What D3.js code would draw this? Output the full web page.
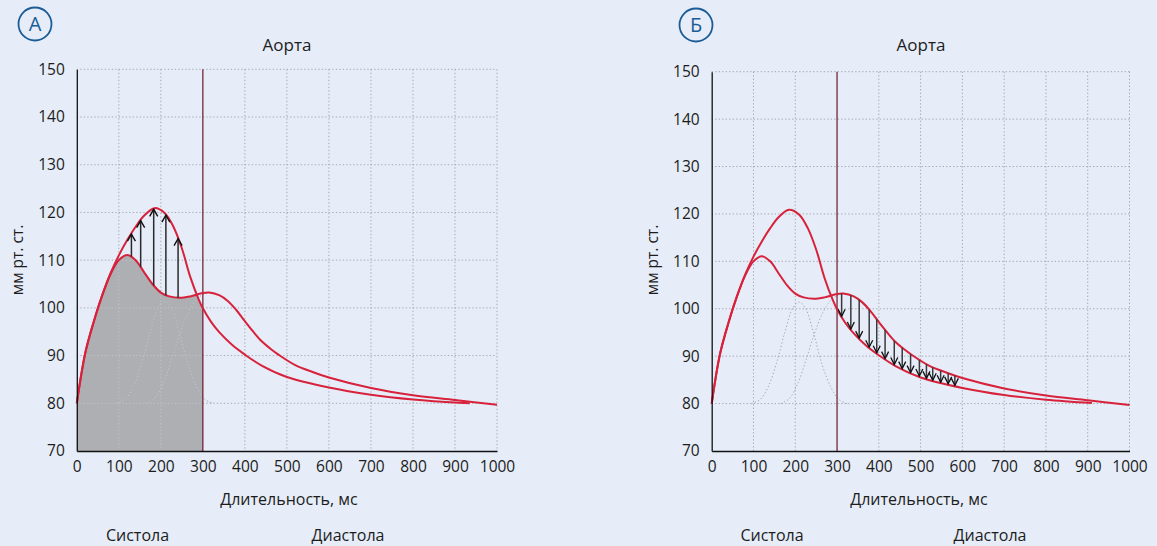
<!DOCTYPE html>
<html><head><meta charset="utf-8">
<script src="https://cdn.jsdelivr.net/npm/d3@7"></script>
<style>
html,body{margin:0;padding:0;background:#E6EDF8;}
svg{display:block;}
text{font-family:"Open Sans",sans-serif;fill:#1c1c1c;}
</style></head><body>
<svg id="chart" width="1157" height="546"></svg>
<script>
// ---------- data ----------
const timeTicks = [0,100,200,300,400,500,600,700,800,900,1000];
const pressureTicks = [70,80,90,100,110,120,130,140,150];
const panelLetters = ["А","Б"];
const panelTitles = ["Аорта","Аорта"];
const xTitle = "Длительность, мс";
const yTitle = "мм рт. ст.";
const phaseLabels = ["Систола","Диастола"];
const systoleEnd = 300;
// curve with lower systolic peak and dicrotic hump [ms, mmHg]
const curveA = [[0,80],[20,90.5],[40,97],[60,102.5],[80,107],[100,110],[120,111.1],[140,110],[160,107.5],[180,105],[200,103.2],[220,102.4],[245,102.1],[270,102.4],[300,103.1],[315,103.2],[340,102.6],[360,101.4],[380,99.5],[400,97.2],[420,95.0],[440,93.0],[460,91.5],[480,90.2],[520,88.0],[560,86.6],[600,85.4],[700,83.2],[800,81.7],[900,80.7],[1000,79.7]];
// curve with higher systolic peak
const curveB = [[0,80],[20,90.5],[40,97],[60,102.5],[80,107.2],[100,111],[120,114.2],[140,117],[160,119.3],[185,120.9],[210,119.8],[230,117],[250,112.5],[270,106.5],[290,101.8],[300,99.9],[320,97],[340,94.8],[370,92.2],[400,90.2],[440,87.9],[500,85.5],[600,83.3],[700,81.8],[800,80.8],[910,80.1],[935,80.0]];
const curveBEndRight = 910;
// dotted component waves
const wave1 = [[95,80],[115,80.8],[135,83.5],[155,88.5],[175,95],[195,100.3],[210,101.4],[225,100],[245,94.5],[265,88],[285,83.5],[305,80.8],[325,80]];
const wave2 = [[165,80],[185,81],[205,84],[225,89],[245,94.5],[265,99],[285,101.8],[305,103],[320,103.2]];
// arrows
const arrowsUp = [130,152,183,212,241];
const arrowsDown = [311,333,353,377,395,415,437,456,476,497,514,529,548,566,582];

// ---------- layout ----------
const panels = [
  {x0:76.8, x1:497, yTop:69.3, yBot:451, cx:35, cy:24, titleX:287, xTitleX:289, phaseX:[137.5,348], yLabX:17.5, mode:"fill"},
  {x0:711.7, x1:1129.5, yTop:71.7, yBot:451, cx:696, cy:25, titleX:921, xTitleX:919, phaseX:[772,990], yLabX:652.5, mode:"down"}
];
const RED = "#D8213B", GRID = "#A3A7AE", GRID_LIGHT = "#C6C7CB", FILL = "#AEAFB3";
const svg = d3.select("#chart");
const defs = svg.append("defs");

function sampler(node){
  const L = node.getTotalLength();
  return function(px){
    let lo=0, hi=L;
    for(let i=0;i<40;i++){
      const mid=(lo+hi)/2;
      if(node.getPointAtLength(mid).x < px) lo=mid; else hi=mid;
    }
    return node.getPointAtLength((lo+hi)/2).y;
  };
}

panels.forEach((P, i) => {
  const x = d3.scaleLinear().domain([0,1000]).range([P.x0, P.x1]);
  const y = d3.scaleLinear().domain([70,150]).range([P.yBot, P.yTop]);
  const line = d3.line().x(d=>x(d[0])).y(d=>y(d[1])).curve(d3.curveCatmullRom.alpha(0.5));
  const g = svg.append("g");
  const gFill = g.append("g"), gGrid = g.append("g"), gLight = g.append("g"),
        gLine300 = g.append("g"), gCurves = g.append("g"), gArrows = g.append("g"), gAxes = g.append("g");

  function drawGrid(sel, color){
    sel.selectAll(".h").data(pressureTicks.filter(v=>v>70)).join("line")
      .attr("x1", x(0)).attr("x2", x(1000)).attr("y1", d=>y(d)).attr("y2", d=>y(d))
      .attr("stroke", color).attr("stroke-width", 1).attr("stroke-dasharray", "1.3,2.2");
    sel.selectAll(".v").data(timeTicks.filter(v=>v>0 && v!==systoleEnd)).join("line")
      .attr("x1", d=>x(d)).attr("x2", d=>x(d)).attr("y1", y(150)).attr("y2", y(70))
      .attr("stroke", color).attr("stroke-width", 1).attr("stroke-dasharray", "1.3,2.2");
    [wave1, wave2].forEach(w => sel.append("path").attr("d", line(w)).attr("fill","none")
      .attr("stroke", color).attr("stroke-width", 1).attr("stroke-dasharray", "1.3,2.2"));
  }
  drawGrid(gGrid, GRID);

  // systole/diastole boundary
  gLine300.append("line").attr("x1", x(systoleEnd)).attr("x2", x(systoleEnd))
    .attr("y1", y(150)).attr("y2", y(70)).attr("stroke", "#6E1426").attr("stroke-width", 1.2);

  // curves
  const pA = gCurves.append("path").attr("d", line(curveA)).attr("fill","none")
    .attr("stroke", RED).attr("stroke-width", 2);
  const bData = P.mode === "down" ? curveB.filter(d=>d[0] <= curveBEndRight) : curveB;
  const pB = gCurves.append("path").attr("d", line(bData)).attr("fill","none")
    .attr("stroke", RED).attr("stroke-width", 2);
  const yA = sampler(pA.node()), yB = sampler(pB.node());

  if (P.mode === "fill") {
    const xs = d3.range(x(0), x(systoleEnd) + 0.01, 1);
    const area = d3.area().x(d=>d).y0(y(70)).y1(d => Math.max(yA(d), yB(d)));
    const dFill = area(xs);
    gFill.append("path").attr("d", dFill).attr("fill", FILL);
    defs.append("clipPath").attr("id", "fillClip").append("path").attr("d", dFill);
    gLight.attr("clip-path", "url(#fillClip)");
    drawGrid(gLight, GRID_LIGHT);
    arrowsUp.forEach(t => {
      const px = x(t), y0 = yA(px), tip = yB(px) + 1;
      gArrows.append("line").attr("x1", px).attr("x2", px).attr("y1", y0).attr("y2", tip)
        .attr("stroke", "#2a2a2a").attr("stroke-width", 1.5);
      gArrows.append("path").attr("d", `M${px-4},${tip+7}L${px},${tip}L${px+4},${tip+7}`)
        .attr("fill","none").attr("stroke","#111").attr("stroke-width",1.4);
    });
  } else {
    arrowsDown.forEach(t => {
      const px = x(t), y0 = yA(px), tip = yB(px) - 1;
      gArrows.append("line").attr("x1", px).attr("x2", px).attr("y1", y0).attr("y2", tip)
        .attr("stroke", "#3a3a3a").attr("stroke-width", 1.5);
      gArrows.append("path").attr("d", `M${px-3.5},${tip-7}L${px},${tip}L${px+3.5},${tip-7}`)
        .attr("fill","none").attr("stroke","#111").attr("stroke-width",1.3);
    });
  }

  // axes
  const yAxis = d3.axisLeft(y).tickValues(pressureTicks).tickSize(0).tickPadding(12).tickFormat(d3.format("d"));
  const xAxis = d3.axisBottom(x).tickValues(timeTicks).tickSize(0).tickPadding(10).tickFormat(d3.format("d"));
  const ga = gAxes.append("g").attr("transform", `translate(${x(0)},0)`).call(yAxis);
  const gb = gAxes.append("g").attr("transform", `translate(0,${y(70)})`).call(xAxis);
  [ga, gb].forEach(a => {
    a.select(".domain").attr("stroke", "#111").attr("stroke-width", 1.3);
    a.selectAll("text").attr("font-family", "Open Sans").attr("font-size", 15.5).attr("fill", "#1c1c1c");
  });

  // texts
  g.append("text").attr("x", P.titleX).attr("y", 51).attr("text-anchor","middle")
    .attr("font-size", 17).text(panelTitles[i]);
  g.append("text").attr("x", P.xTitleX).attr("y", 505).attr("text-anchor","middle")
    .attr("font-size", 16).text(xTitle);
  phaseLabels.forEach((t, j) => g.append("text").attr("x", P.phaseX[j]).attr("y", 541)
    .attr("text-anchor","middle").attr("font-size", 16).text(t));
  g.append("text").attr("transform", `translate(${P.yLabX},260) rotate(-90)`)
    .attr("text-anchor","middle").attr("dy","0.35em").attr("font-size", 15.5).text(yTitle);
  g.append("circle").attr("cx", P.cx).attr("cy", P.cy).attr("r", 16.5)
    .attr("fill","none").attr("stroke","#1B5C97").attr("stroke-width",1.8);
  g.append("text").attr("x", P.cx).attr("y", P.cy).attr("dy","0.36em").attr("text-anchor","middle")
    .attr("font-size", 20).style("fill","#1B5C97").text(panelLetters[i]);
});
</script>
</body></html>
